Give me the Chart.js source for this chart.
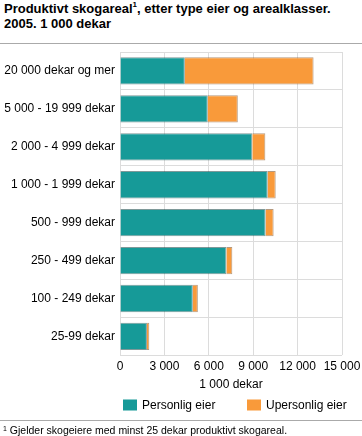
<!DOCTYPE html>
<html>
<head>
<meta charset="utf-8">
<script src="https://cdn.jsdelivr.net/npm/chart.js@4/dist/chart.umd.min.js"></script>
<style>
html,body{margin:0;padding:0;background:#fff;}
body{width:362px;height:436px;position:relative;overflow:hidden;font-family:"Liberation Sans",Arial,sans-serif;color:#000;}
#title{position:absolute;left:4px;top:1px;font-weight:bold;font-size:13px;line-height:15px;white-space:nowrap;}
#title sup{font-size:8px;vertical-align:6px;line-height:0;}
.rule{position:absolute;left:0;width:362px;height:1px;background:#aaa;}
#foot{position:absolute;left:3px;top:424px;font-size:10.5px;line-height:12px;white-space:nowrap;}
#foot sup{font-size:7px;vertical-align:3px;line-height:0;}
#wrap{position:absolute;left:0;top:0;width:362px;height:436px;}
</style>
</head>
<body>
<div id="title">Produktivt skogareal<sup>1</sup>, etter type eier og arealklasser.<br>2005. 1 000 dekar</div>
<div class="rule" style="top:43px;"></div>
<div id="wrap"><canvas id="c" width="362" height="436"></canvas></div>
<div class="rule" style="top:420px;"></div>
<div id="foot"><sup>1</sup> Gjelder skogeiere med minst 25 dekar produktivt skogareal.</div>
<script>
const categories = ["20 000 dekar og mer","5 000 - 19 999 dekar","2 000 - 4 999 dekar","1 000 - 1 999 dekar","500 - 999 dekar","250 - 499 dekar","100 - 249 dekar","25-99 dekar"];
const personligEier = [4380, 5930, 8940, 9980, 9840, 7190, 4920, 1820];
const upersonligEier = [8700, 2030, 880, 540, 540, 400, 340, 160];
const xTicks = [0, 3000, 6000, 9000, 12000, 15000];
const seriesNames = ["Personlig eier", "Upersonlig eier"];
const axisTitle = "1 000 dekar";

function fmt(v){ return String(v).replace(/\B(?=(\d{3})+(?!\d))/g, "\u00a0"); }
const FONT = '"Liberation Sans", Arial, sans-serif';

// Legend drawn below the chart, items placed at fixed x positions
const customLegend = {
  id: 'customLegend',
  afterDraw(chart, args, opts) {
    const ctx = chart.ctx;
    ctx.save();
    ctx.font = opts.fontSize + 'px ' + FONT;
    ctx.textBaseline = 'middle';
    ctx.textAlign = 'left';
    chart.data.datasets.forEach((ds, i) => {
      const x = opts.xs[i];
      const y = opts.y;
      ctx.fillStyle = ds.backgroundColor;
      ctx.fillRect(x, y - opts.boxH / 2, opts.boxW, opts.boxH);
      ctx.fillStyle = '#000';
      ctx.fillText(ds.label, x + opts.boxW + 5, y + 0.5);
    });
    ctx.restore();
  }
};

new Chart(document.getElementById('c'), {
  type: 'bar',
  data: {
    labels: categories,
    datasets: [
      {label: seriesNames[0], data: personligEier, backgroundColor: '#169a98', borderColor: 'rgba(20,70,70,0.55)', borderWidth: 1, barPercentage: 0.72, categoryPercentage: 1.0},
      {label: seriesNames[1], data: upersonligEier, backgroundColor: '#f99a3a', borderColor: 'rgba(120,70,20,0.55)', borderWidth: 1, barPercentage: 0.72, categoryPercentage: 1.0}
    ]
  },
  options: {
    indexAxis: 'y',
    responsive: false,
    animation: false,
    devicePixelRatio: 1,
    layout: {padding: {top: 52, right: 7, bottom: 45, left: 0}},
    scales: {
      x: {
        stacked: true, min: 0, max: 15000,
        afterBuildTicks: (s) => { s.ticks = xTicks.map(v => ({value: v})); },
        afterFit: (s) => { s.paddingRight = 20; },
        ticks: {callback: (v) => fmt(v), color: '#000', font: {family: FONT, size: 12}, padding: 4, maxRotation: 0},
        grid: {color: '#dcdcdc', lineWidth: 1, drawTicks: false},
        border: {display: false},
        title: {display: true, text: axisTitle, color: '#000', font: {family: FONT, size: 12, lineHeight: 1.1}, padding: {top: 0, bottom: 0}}
      },
      y: {
        stacked: true,
        afterFit: (s) => { s.width = 120; },
        ticks: {color: '#000', font: {family: FONT, size: 12}, padding: 5},
        grid: {color: '#dcdcdc', lineWidth: 1, drawTicks: false, offset: true},
        border: {display: false}
      }
    },
    plugins: {
      legend: {display: false},
      customLegend: {xs: [123, 247], y: 405, boxW: 14, boxH: 11, fontSize: 12},
      tooltip: {enabled: false}
    }
  },
  plugins: [customLegend]
});
</script>
</body>
</html>
